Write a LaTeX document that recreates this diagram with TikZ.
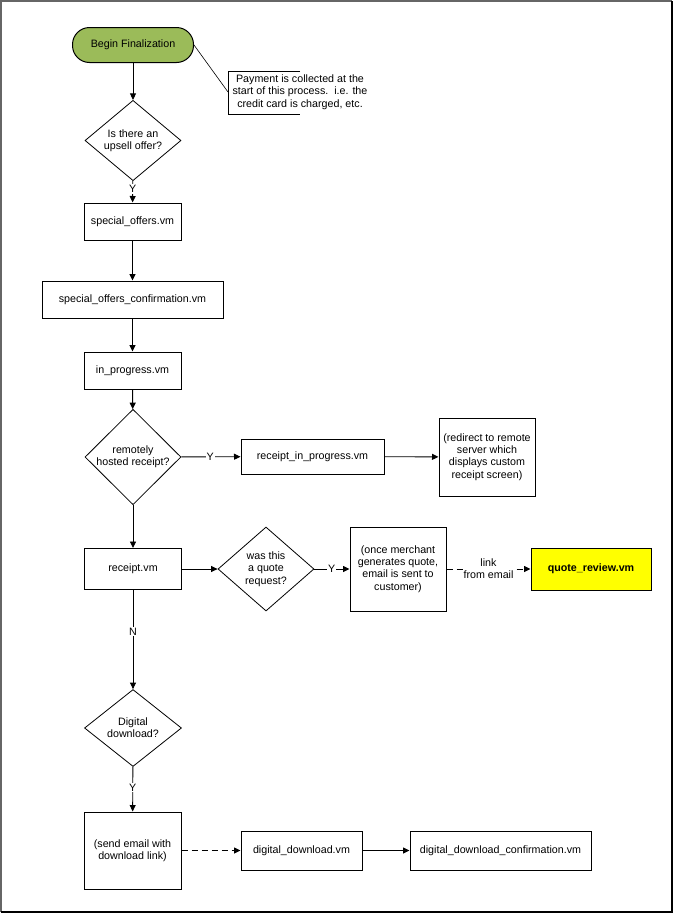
\documentclass[tikz,border=0pt]{standalone}
\usepackage{fontspec}
\setmainfont{Liberation Sans}
\usetikzlibrary{arrows.meta,shapes.geometric}
\definecolor{termgreen}{RGB}{155,187,89}
\definecolor{qyellow}{RGB}{255,255,0}
\begin{document}
\begin{tikzpicture}[x=1pt,y=-1pt,
  font=\fontsize{10.7}{12.3}\selectfont,
  box/.style={draw,line width=1pt,rectangle,inner sep=0pt,align=center},
  dec/.style={draw,line width=0.8pt,diamond,inner sep=0pt,align=center},
  conn/.style={line width=0.9pt,-{Triangle[length=6.5pt,width=6pt]}},
  lbl/.style={fill=white,inner sep=1pt},
  dashconn/.style={conn,dash pattern=on 6pt off 4pt}]
\useasboundingbox (0,0) rectangle (673,913);
\fill[white] (0,0) rectangle (673,913);
% frame
\draw[black!60,line width=1.5pt] (0.75,912) -- (0.75,0.75) -- (671.5,0.75);
\draw[black,line width=1.5pt] (0.75,911.75) -- (671.75,911.75) -- (671.75,0.75);

% nodes
\node[box,fill=termgreen,rounded corners=17pt,minimum width=121pt,minimum height=35pt] (begin) at (133,45) {Begin Finalization};
\node[align=center,inner sep=0pt] (note) at (300,92) {Payment is collected at the\\start of this process.\ \ i.e. the\\credit card is charged, etc.};
\coordinate (nt) at (300,71);
\coordinate (ntl) at (228,71);
\coordinate (nbl) at (228,114);
\coordinate (nb) at (300,114);
\coordinate (nmid) at (228,92);

\node[dec,minimum width=96pt,minimum height=71pt] (d1) at (133,140.5) {Is there an\\upsell offer?};
\node[box,minimum width=97pt,minimum height=37pt] (so) at (132.5,221.5) {special\_offers.vm};
\node[box,minimum width=181pt,minimum height=37pt] (soc) at (132.5,299.5) {special\_offers\_confirmation.vm};
\node[box,minimum width=97pt,minimum height=37pt] (ip) at (132.5,370.5) {in\_progress.vm};
\node[dec,minimum width=96pt,minimum height=70pt] (d2) at (133,457) {remotely\\hosted receipt?};
\node[box,minimum width=143pt,minimum height=35pt] (rip) at (312.5,456.5) {receipt\_in\_progress.vm};
\node[box,minimum width=96pt,minimum height=78pt] (redir) at (487,457) {(redirect to remote\\server which\\displays custom\\receipt screen)};
\node[box,minimum width=97pt,minimum height=41pt] (rcpt) at (133,569) {receipt.vm};
\node[dec,minimum width=96pt,minimum height=84pt] (d4) at (266,569) {was this\\a quote\\request?};
\node[box,minimum width=96pt,minimum height=84pt] (merch) at (398,569) {(once merchant\\generates quote,\\email is sent to\\customer)};
\node[box,fill=qyellow,minimum width=120pt,minimum height=42pt,font=\fontsize{10.7}{12.3}\selectfont\bfseries] (qr) at (591,569) {quote\_review.vm};
\node[dec,minimum width=97pt,minimum height=77pt] (d3) at (133,728) {Digital\\download?};
\node[box,minimum width=97pt,minimum height=77pt] (send) at (132.5,850.5) {(send email with\\download link)};
\node[box,minimum width=121pt,minimum height=39pt] (dd) at (301.5,850.5) {digital\_download.vm};
\node[box,minimum width=181pt,minimum height=39pt] (ddc) at (500.5,850.5) {digital\_download\_confirmation.vm};

% note bracket
\draw[line width=0.8pt] (nt) -- (ntl) -- (nbl) -- (nb);
\draw[line width=0.6pt] (begin.east) -- (nmid);

% connectors
\draw[conn] (begin) -- (d1);
\draw[conn] (d1) -- node[pos=0.37,lbl]{Y} (so);
\draw[conn] (so) -- (soc);
\draw[conn] (soc) -- (ip);
\draw[conn] (ip) -- (d2);
\draw[conn] (d2) -- node[pos=0.49,lbl]{Y} (rip);
\draw[conn] (rip) -- (redir);
\draw[conn] (d2) -- (rcpt);
\draw[conn] (rcpt) -- (d4);
\draw[conn] (d4) -- node[pos=0.49,lbl]{Y} (merch);
\draw[dashconn] (merch) -- node[pos=0.5,lbl,align=center]{link\\from email} (qr);
\draw[conn] (rcpt) -- node[pos=0.42,lbl]{N} (d3);
\draw[conn] (d3) -- node[pos=0.47,lbl]{Y} (send);
\draw[dashconn] (send) -- (dd);
\draw[conn] (dd) -- (ddc);
\end{tikzpicture}
\end{document}
